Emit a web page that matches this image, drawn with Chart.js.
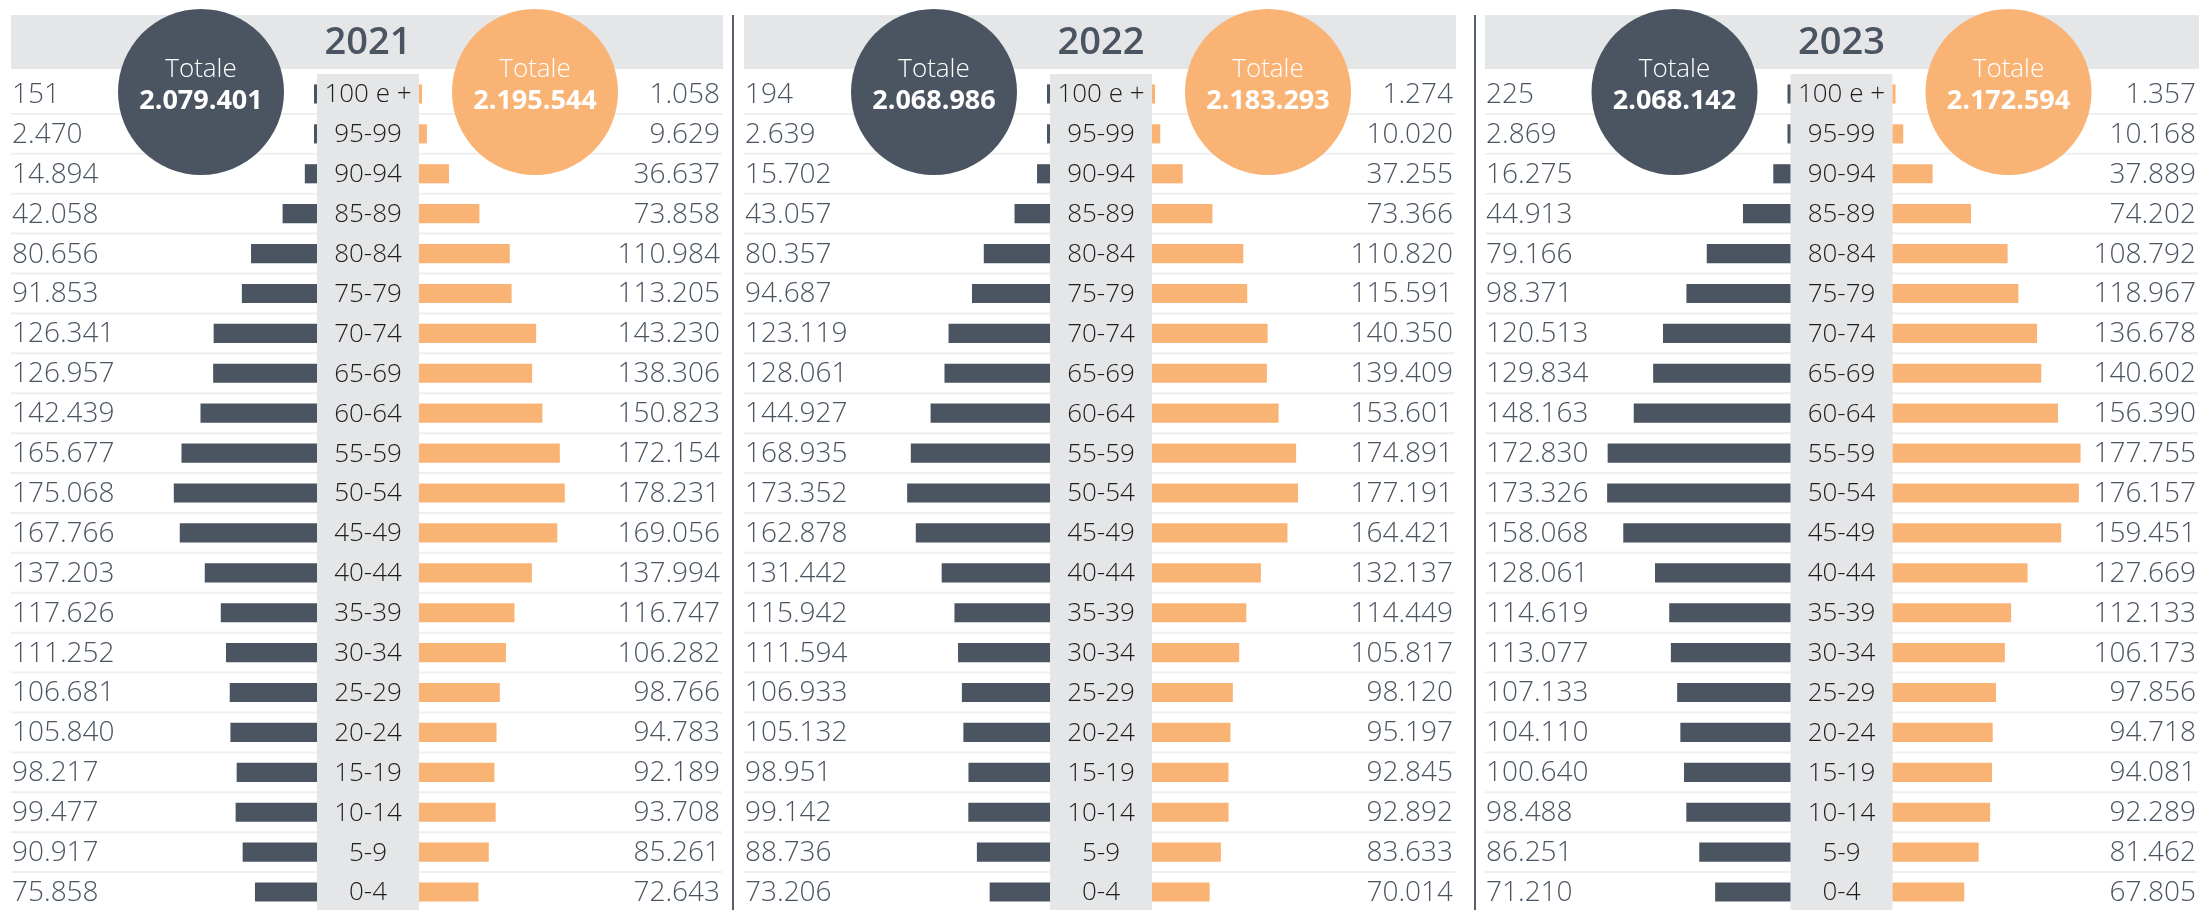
<!DOCTYPE html>
<html>
<head>
<meta charset="utf-8">
<script src="https://cdn.jsdelivr.net/npm/chart.js@4/dist/chart.umd.min.js"></script>
<style>
  html, body { margin: 0; padding: 0; background: #fff; overflow: hidden; }
  #wrap { position: relative; width: 2199px; height: 910px; overflow: hidden; }
  canvas { position: absolute; top: 0; }
  .divider { position: absolute; top: 15px; width: 2px; height: 895px; background: #55606c; }
</style>
</head>
<body>
<div id="wrap">
  <canvas id="c2021" width="712" height="912" style="left:11px"></canvas>
  <div class="divider" style="left:732px"></div>
  <canvas id="c2022" width="712" height="912" style="left:744px"></canvas>
  <div class="divider" style="left:1474px"></div>
  <canvas id="c2023" width="714" height="912" style="left:1485px"></canvas>
</div>
<script>
// fasce d'età, dall'alto verso il basso
const ageGroups = ["100 e +", "95-99", "90-94", "85-89", "80-84", "75-79", "70-74",
  "65-69", "60-64", "55-59", "50-54", "45-49", "40-44", "35-39", "30-34",
  "25-29", "20-24", "15-19", "10-14", "5-9", "0-4"];

const years = ["2021", "2022", "2023"];

const male2021 = [151, 2470, 14894, 42058, 80656, 91853, 126341, 126957, 142439, 165677,
  175068, 167766, 137203, 117626, 111252, 106681, 105840, 98217, 99477, 90917, 75858];
const female2021 = [1058, 9629, 36637, 73858, 110984, 113205, 143230, 138306, 150823, 172154,
  178231, 169056, 137994, 116747, 106282, 98766, 94783, 92189, 93708, 85261, 72643];

const male2022 = [194, 2639, 15702, 43057, 80357, 94687, 123119, 128061, 144927, 168935,
  173352, 162878, 131442, 115942, 111594, 106933, 105132, 98951, 99142, 88736, 73206];
const female2022 = [1274, 10020, 37255, 73366, 110820, 115591, 140350, 139409, 153601, 174891,
  177191, 164421, 132137, 114449, 105817, 98120, 95197, 92845, 92892, 83633, 70014];

const male2023 = [225, 2869, 16275, 44913, 79166, 98371, 120513, 129834, 148163, 172830,
  173326, 158068, 128061, 114619, 113077, 107133, 104110, 100640, 98488, 86251, 71210];
const female2023 = [1357, 10168, 37889, 74202, 108792, 118967, 136678, 140602, 156390, 177755,
  176157, 159451, 127669, 112133, 106173, 97856, 94718, 94081, 92289, 81462, 67805];

const totalMale = [2079401, 2068986, 2068142];
const totalFemale = [2195544, 2183293, 2172594];

const DARK = "#4a5561";
const ORANGE = "#f9b374";
const GREY = "#e5e6e8";
const FONT = "'Open Sans', 'Noto Sans', sans-serif";

// pixel per persona (scala diversa nel pannello 2023)
const pxPerPerson = [0.000818, 0.000824, 0.001058];
const centerX = [357, 357, 356.5];
const bandHalf = 51;

function fmt(v) {
  return String(v).replace(/\B(?=(\d{3})+(?!\d))/g, ".");
}

const pyramidPlugin = {
  id: "pyramid",
  beforeDatasetsDraw(chart, args, opts) {
    const { ctx, chartArea, scales } = chart;
    const y = scales.y;
    const cx = scales.x.getPixelForValue(0);
    ctx.save();
    // header band
    ctx.fillStyle = GREY;
    ctx.fillRect(0, 15, chart.width, 54);
    // row separators
    ctx.strokeStyle = "#efefef";
    ctx.lineWidth = 2;
    for (let i = 0; i < ageGroups.length - 1; i++) {
      const yy = (y.getPixelForValue(i) + y.getPixelForValue(i + 1)) / 2;
      ctx.beginPath();
      ctx.moveTo(0, yy);
      ctx.lineTo(chart.width - 1, yy);
      ctx.stroke();
    }
    // central label band
    ctx.fillStyle = GREY;
    ctx.fillRect(cx - bandHalf, chartArea.top, bandHalf * 2, chart.height - chartArea.top);
    ctx.restore();
  },
  afterDatasetsDraw(chart, args, opts) {
    const { ctx, scales } = chart;
    const y = scales.y;
    const cx = scales.x.getPixelForValue(0);
    ctx.save();
    ctx.textBaseline = "middle";
    ageGroups.forEach((g, i) => {
      const yy = y.getPixelForValue(i) + 1;
      ctx.font = "300 26px " + FONT;
      ctx.fillStyle = "#1e1e1e";
      ctx.textAlign = "center";
      ctx.fillText(g, cx, yy);
      ctx.font = "300 28px " + FONT;
      ctx.fillStyle = "#4a5561";
      ctx.textAlign = "left";
      ctx.fillText(fmt(opts.male[i]), 1, yy);
      ctx.textAlign = "right";
      ctx.fillText(fmt(opts.female[i]), chart.width - 3, yy);
    });

    // year title
    ctx.font = "600 38px " + FONT;
    ctx.fillStyle = DARK;
    ctx.textAlign = "center";
    ctx.fillText(opts.year, cx, 43);

    // total circles
    [[-167, DARK, opts.totM], [167, ORANGE, opts.totF]].forEach(([dx, col, tot]) => {
      ctx.beginPath();
      ctx.arc(cx + dx, 92, 83, 0, Math.PI * 2);
      ctx.fillStyle = col;
      ctx.fill();
      ctx.fillStyle = "#fff";
      ctx.font = "300 26px " + FONT;
      ctx.fillText("Totale", cx + dx, 70);
      ctx.font = "bold 27px " + FONT;
      ctx.fillText(fmt(tot), cx + dx, 101);
    });
    ctx.restore();
  }
};

function makePyramid(idx, male, female) {
  const s = pxPerPerson[idx];
  const canvas = document.getElementById("c" + years[idx]);
  const gap = bandHalf / s;
  const xMin = -centerX[idx] / s;
  const xMax = (canvas.width - centerX[idx]) / s;

  new Chart(canvas, {
    type: "bar",
    data: {
      labels: ageGroups,
      datasets: [
        {
          label: "Maschi",
          data: male.map((v) => [-(gap + v), -gap]),
          backgroundColor: DARK,
          grouped: false,
          minBarLength: 3,
        },
        {
          label: "Femmine",
          data: female.map((v) => [gap, gap + v]),
          backgroundColor: ORANGE,
          grouped: false,
          minBarLength: 3,
        },
      ],
    },
    options: {
      indexAxis: "y",
      responsive: false,
      animation: false,
      devicePixelRatio: 1,
      layout: { padding: { top: 74, left: 0, right: 0, bottom: 0 } },
      barPercentage: 0.48,
      categoryPercentage: 1,
      scales: {
        x: { display: false, min: xMin, max: xMax },
        y: { display: false },
      },
      plugins: {
        legend: { display: false },
        tooltip: { enabled: false },
        pyramid: {
          year: years[idx],
          male: male,
          female: female,
          totM: totalMale[idx],
          totF: totalFemale[idx],
        },
      },
    },
    plugins: [pyramidPlugin],
  });
}

makePyramid(0, male2021, female2021);
makePyramid(1, male2022, female2022);
makePyramid(2, male2023, female2023);
</script>
</body>
</html>
